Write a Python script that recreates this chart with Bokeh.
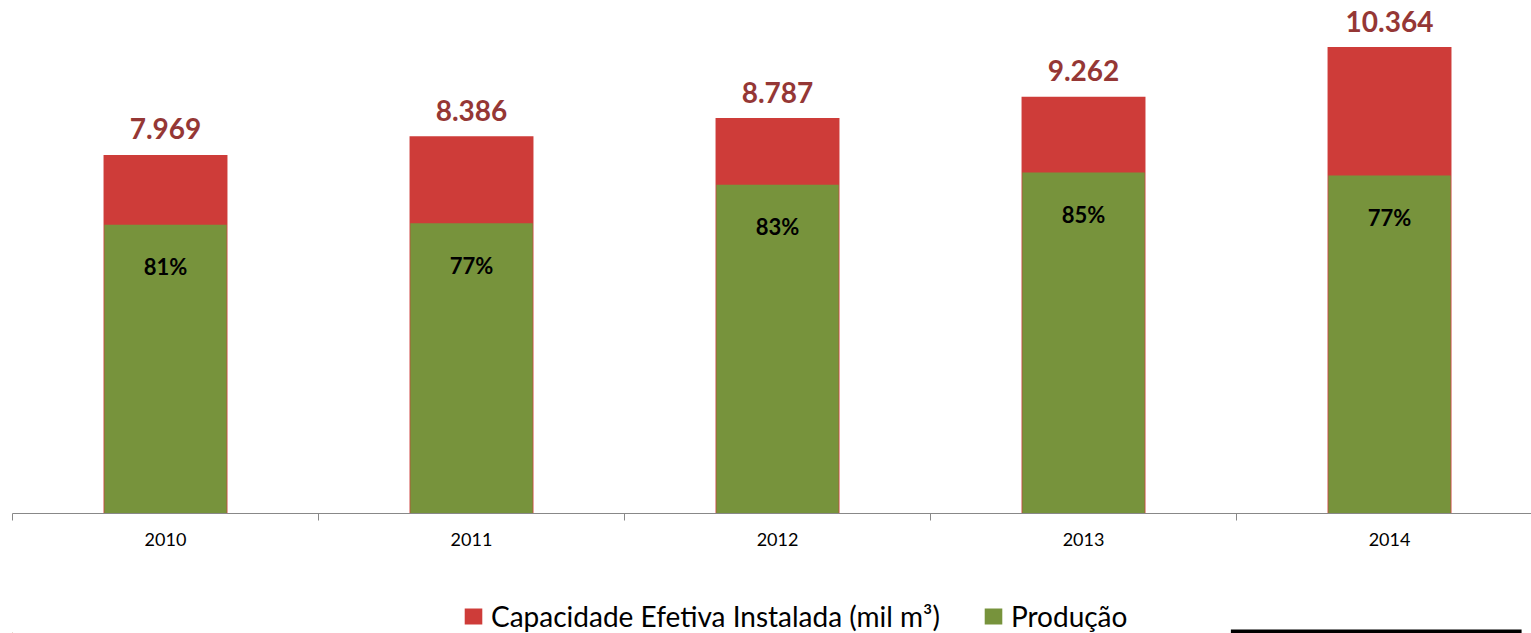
from bokeh.plotting import figure
from bokeh.models import Range1d, FixedTicker, Legend, LegendItem, ColumnDataSource
from bokeh.layouts import column
from bokeh.core.properties import value
from bokeh.embed import file_html
from bokeh.resources import INLINE

years = ["2010", "2011", "2012", "2013", "2014"]
capacity = [7969, 8386, 8787, 9262, 10364]
production = [6414, 6452, 7305, 7579, 7512]
pct_labels = ["81%", "77%", "83%", "85%", "77%"]
cap_labels = [f"{v:,}".replace(",", ".") for v in capacity]

RED = "#CE3C39"
GREEN = "#77933C"
LABEL_RED = "#953735"
AXIS_GRAY = "#888888"
FONT = "Lato"

centers = [i + 0.5 for i in range(len(years))]
src = ColumnDataSource(dict(x=centers, cap=capacity, prod=production,
                            cap_lab=cap_labels, pct_lab=pct_labels))

W = 1531
p = figure(width=W, height=597, output_backend="svg", toolbar_location=None,
           x_range=Range1d(0, 4.964), y_range=Range1d(0, 11400),
           y_axis_location=None, min_border_left=12, min_border_right=0,
           min_border_top=0, min_border_bottom=84)
p.outline_line_color = None
p.xgrid.visible = False
p.ygrid.visible = False

p.vbar(x="x", top="cap", bottom=0, width=0.405, source=src,
       fill_color=RED, line_color=None)
p.vbar(x="x", top="prod", bottom=0, width=0.4, source=src,
       fill_color=GREEN, line_color=None)

p.text(x="x", y="cap", text="cap_lab", source=src, text_align="center",
       text_baseline="alphabetic", y_offset=-26,
       text_font=value(FONT), text_font_style="bold", text_font_size="28px",
       text_color=LABEL_RED)
p.text(x="x", y="prod", text="pct_lab", source=src, text_align="center",
       text_baseline="middle", y_offset=42,
       text_font=value(FONT), text_font_style="bold", text_font_size="22px",
       text_color="black")

ax = p.xaxis[0]
ax.ticker = FixedTicker(ticks=centers, minor_ticks=list(range(len(years) + 1)))
ax.major_label_overrides = {c: y for c, y in zip(centers, years)}
ax.major_tick_line_color = None
ax.major_tick_out = 7
ax.major_tick_in = 0
ax.minor_tick_line_color = AXIS_GRAY
ax.minor_tick_out = 7
ax.minor_tick_in = 0
ax.axis_line_color = AXIS_GRAY
ax.major_label_standoff = 12
ax.major_label_text_font = FONT
ax.major_label_text_font_size = "18px"
ax.major_label_text_color = "black"

# legend strip (pixel-unit ranges)
STRIP_H = 36
p2 = figure(width=W, height=STRIP_H, output_backend="svg", toolbar_location=None,
            x_range=Range1d(0, W), y_range=Range1d(0, STRIP_H),
            x_axis_location=None, y_axis_location=None, min_border=0)
p2.outline_line_color = None
p2.xgrid.visible = False
p2.ygrid.visible = False
d1 = p2.vbar(x=[-100], top=[1], width=1, fill_color=RED, line_color=None)
d2 = p2.vbar(x=[-100], top=[1], width=1, fill_color=GREEN, line_color=None)
legend = Legend(items=[LegendItem(label="Capacidade Efetiva Instalada (mil m³)", renderers=[d1]),
                       LegendItem(label="Produção", renderers=[d2])],
                orientation="horizontal", location=(450, 0))
legend.border_line_color = None
legend.background_fill_alpha = 0
legend.padding = 0
legend.margin = 0
legend.spacing = 42
legend.label_standoff = 7
legend.glyph_width = 22
legend.glyph_height = 20
legend.label_text_font = FONT
legend.label_text_font_size = "28px"
legend.label_text_color = "black"
p2.add_layout(legend, "center")

# decorative black rule at the bottom right
RULE_LEFT, RULE_RIGHT, RULE_TOP = 1228, 1521, 4
p2.quad(left=[RULE_LEFT], right=[RULE_RIGHT], bottom=[0], top=[RULE_TOP],
        fill_color="black", line_color=None)

layout = column(p, p2, spacing=0)
open("out.html", "w").write(file_html(layout, INLINE))
